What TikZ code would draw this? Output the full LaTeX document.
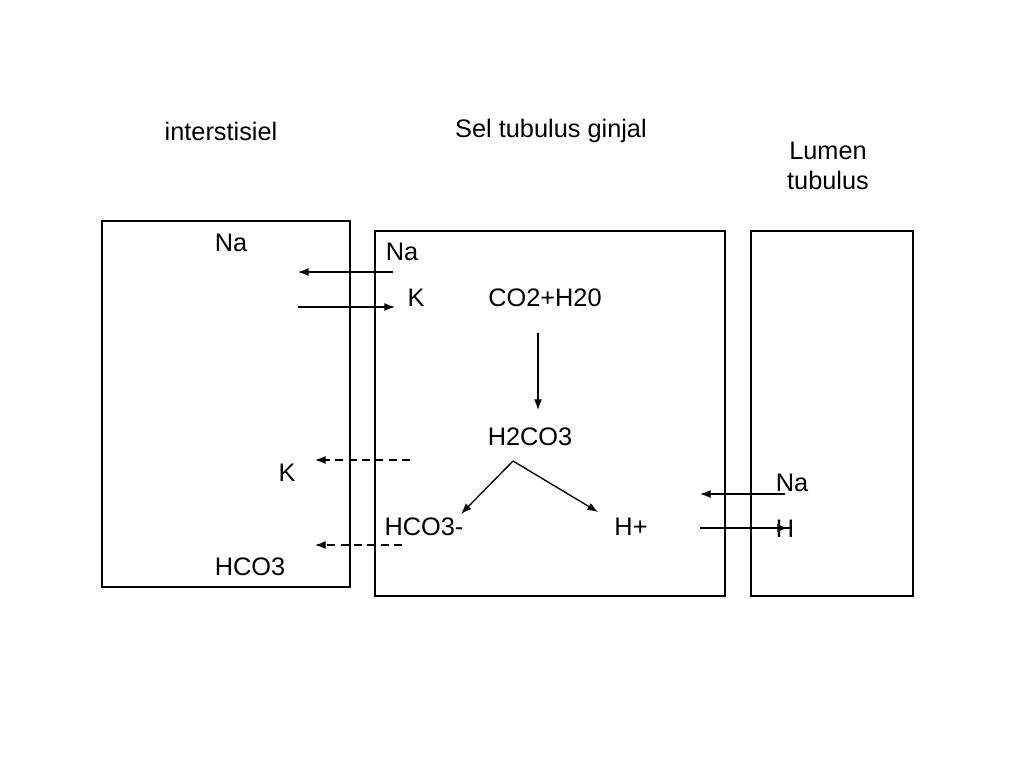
\documentclass[tikz,border=0pt]{standalone}
\usepackage{fontspec}
\setmainfont{Liberation Sans}
\usetikzlibrary{arrows.meta}
\begin{document}
\begin{tikzpicture}[x=0.75pt,y=-0.75pt,
  lbl/.style={inner sep=0pt,font=\fontsize{19}{23}\selectfont},
  boxs/.style={draw,line width=0.8pt},
  arr/.style={draw,line width=1pt,-{Latex[length=8pt,width=6pt]}},
  darr/.style={arr,dash pattern=on 6pt off 4pt}]
\useasboundingbox (0,0) rectangle (1024,768);
% boxes
\draw[boxs] (102,221) rectangle (350,587);
\draw[boxs] (375,231) rectangle (725,596);
\draw[boxs] (751,231) rectangle (913,596);
% titles
\node[lbl] (t1) at (221,131) {interstisiel};
\node[lbl] (t2) at (551,131) {Sel tubulus ginjal};
\node[lbl,align=center] (t3) at (828,166) {Lumen\\tubulus};
% labels
\node[lbl] (na1) at (231,243) {Na};
\node[lbl] (na2) at (402,252) {Na};
\node[lbl] (k2) at (416,298) {K};
\node[lbl] (co2) at (545,298) {CO2+H20};
\node[lbl] (h2co3) at (530,437) {H2CO3};
\node[lbl] (k1) at (287,473) {K};
\node[lbl] (hco3m) at (424,527) {HCO3-};
\node[lbl] (hp) at (631,527) {H+};
\node[lbl] (na3) at (792,483) {Na};
\node[lbl] (h3) at (785,529) {H};
\node[lbl] (hco3) at (250,567) {HCO3};
% coordinates
\coordinate (a1s) at (393,272); \coordinate (a1e) at (298,272);
\coordinate (a2s) at (298,307); \coordinate (a2e) at (395,307);
\coordinate (vs) at (538,333); \coordinate (ve) at (538,410);
\coordinate (d1s) at (410,460); \coordinate (d1e) at (315,460);
\coordinate (d2s) at (402,545); \coordinate (d2e) at (315,545);
\coordinate (br) at (513,461); \coordinate (bl) at (461,514); \coordinate (brr) at (598,512);
\coordinate (n3s) at (785,494); \coordinate (n3e) at (700,494);
\coordinate (h3s) at (700,528); \coordinate (h3e) at (788,528);
% arrows
\draw[arr] (a1s) -- (a1e);
\draw[arr] (a2s) -- (a2e);
\draw[arr] (vs) -- (ve);
\draw[darr] (d1s) -- (d1e);
\draw[darr] (d2s) -- (d2e);
\draw[arr] (br) -- (bl);
\draw[arr] (br) -- (brr);
\draw[arr] (n3s) -- (n3e);
\draw[arr] (h3s) -- (h3e);
\end{tikzpicture}
\end{document}
